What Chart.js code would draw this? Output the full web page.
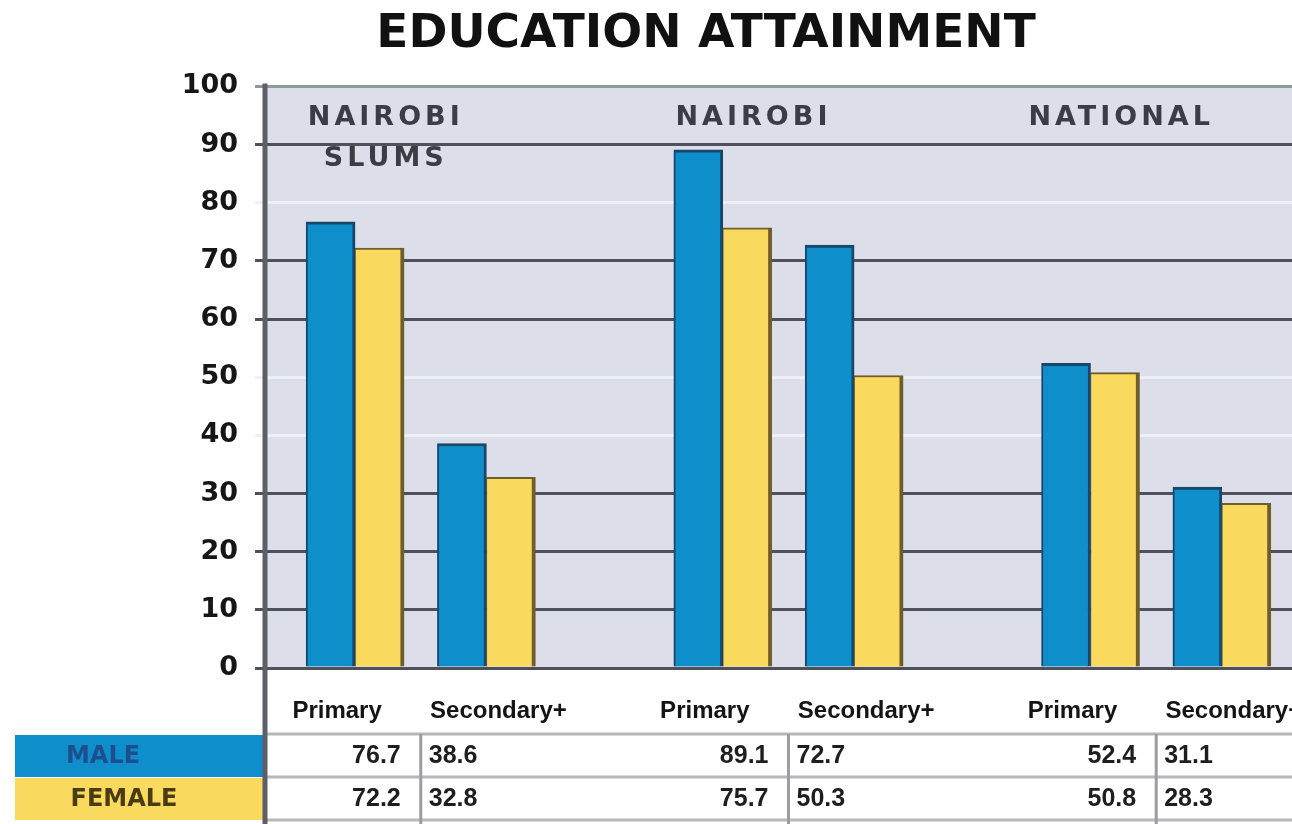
<!DOCTYPE html>
<html>
<head>
<meta charset="utf-8">
<title>Education Attainment</title>
<script src="https://cdn.jsdelivr.net/npm/chart.js@4.4.1/dist/chart.umd.min.js"></script>
<style>
  html, body { margin: 0; padding: 0; background: #fff; }
  #wrap { position: relative; width: 1292px; height: 824px; }
</style>
</head>
<body>
<div id="wrap"><canvas id="chart"></canvas></div>
<script>
const regions = ['NAIROBI SLUMS', 'NAIROBI', 'NATIONAL'];
const levels = ['Primary', 'Secondary+'];
const seriesNames = ['MALE', 'FEMALE'];
const maleValues = [76.7, 38.6, 89.1, 72.7, 52.4, 31.1];
const femaleValues = [72.2, 32.8, 75.7, 50.3, 50.8, 28.3];
const yMax = 100;
const yStep = 10;

// x layout in axis units: the two levels of a region sit 5 apart, regions 14 apart
const GROUP_STEP = 14;
const LEVEL_STEP = 5;

const BLUE = '#0e8fcb', BLUE_EDGE = '#17476a';
const YELLOW = '#f9da5e', YELLOW_EDGE = '#6f5d2a';
const FAINT_LINES = [40, 50, 80];

function xPos(i) {
  return Math.floor(i / levels.length) * GROUP_STEP + (i % levels.length) * LEVEL_STEP;
}
function points(values) {
  return values.map((v, i) => ({x: xPos(i), y: v}));
}
function line(ctx, x1, y1, x2, y2) {
  ctx.beginPath();
  ctx.moveTo(x1, y1);
  ctx.lineTo(x2, y2);
  ctx.stroke();
}

const plotBackground = {
  id: 'plotBackground',
  beforeDraw(chart) {
    const {ctx, chartArea: a} = chart;
    ctx.save();
    ctx.fillStyle = '#dcdfe9';
    ctx.fillRect(a.left, a.top, a.right - a.left, a.bottom - a.top);
    ctx.restore();
  }
};

const regionLabels = {
  id: 'regionLabels',
  afterDatasetsDraw(chart) {
    const {ctx, chartArea: a} = chart;
    const x = chart.scales.x;
    ctx.save();
    ctx.font = 'bold 27px "DejaVu Sans"';
    ctx.letterSpacing = '4px';
    ctx.fillStyle = '#3c3c44';
    ctx.textAlign = 'center';
    ctx.textBaseline = 'middle';
    regions.forEach((name, g) => {
      const cx = x.getPixelForValue(g * GROUP_STEP + LEVEL_STEP / 2) - 35;
      name.split(' ').forEach((txt, j) => ctx.fillText(txt, cx, a.top + 32 + j * 41));
    });
    ctx.restore();
  }
};

const dataTable = {
  id: 'dataTable',
  afterDraw(chart) {
    const {ctx, chartArea: a} = chart;
    const x = chart.scales.x;
    const bottom = chart.height;
    const rowTop = a.bottom + 66;
    const rowH = 43;
    ctx.save();

    // header row: level names under the bars
    ctx.font = 'bold 24px "Liberation Sans"';
    ctx.fillStyle = '#141414';
    ctx.textAlign = 'center';
    ctx.textBaseline = 'middle';
    maleValues.forEach((_, i) => {
      const k = i % levels.length;
      ctx.fillText(levels[k], x.getPixelForValue(xPos(i)) + (k === 0 ? -18 : 12), a.bottom + 43);
    });

    // legend cells
    const cells = [[BLUE, '#1d4f8f'], [YELLOW, '#4a3c12']];
    cells.forEach(([fill, txt], r) => {
      const y = rowTop + r * rowH + 1;
      ctx.fillStyle = fill;
      ctx.fillRect(15, y, a.left - 17, rowH - 1);
      ctx.fillStyle = txt;
      ctx.font = 'bold 24px "DejaVu Sans"';
      ctx.fillText(seriesNames[r], r === 0 ? 103 : 124, y + rowH / 2);
    });

    // row rules
    ctx.strokeStyle = '#b8b8bc';
    ctx.lineWidth = 3;
    for (let r = 0; r <= 2; r++) {
      const y = rowTop + r * rowH;
      line(ctx, a.left, y, a.right, y);
    }

    // column dividers and values
    ctx.font = 'bold 25px "Liberation Sans"';
    ctx.fillStyle = '#1e1e1e';
    regions.forEach((_, g) => {
      const dx = x.getPixelForValue(g * GROUP_STEP + LEVEL_STEP / 2);
      ctx.strokeStyle = '#9c9ca2';
      line(ctx, dx, rowTop, dx, bottom);
      [maleValues, femaleValues].forEach((vals, r) => {
        const y = rowTop + r * rowH + rowH / 2 + 1;
        ctx.textAlign = 'right';
        ctx.fillText(vals[g * 2].toFixed(1), dx - 20, y);
        ctx.textAlign = 'left';
        ctx.fillText(vals[g * 2 + 1].toFixed(1), dx + 8, y);
      });
    });

    // left axis line runs down through the table
    ctx.strokeStyle = '#5e5e68';
    ctx.lineWidth = 5;
    line(ctx, a.left, a.top - 3, a.left, bottom);
    ctx.restore();
  }
};

new Chart(document.getElementById('chart'), {
  type: 'bar',
  data: {
    datasets: [
      {
        label: seriesNames[0],
        data: points(maleValues),
        backgroundColor: BLUE,
        borderColor: BLUE_EDGE,
        borderWidth: {left: 2, top: 3, right: 3, bottom: 0},
        barThickness: 49
      },
      {
        label: seriesNames[1],
        data: points(femaleValues),
        backgroundColor: YELLOW,
        borderColor: YELLOW_EDGE,
        borderWidth: {left: 1, top: 2, right: 4, bottom: 0},
        barThickness: 49
      }
    ]
  },
  options: {
    responsive: true,
    maintainAspectRatio: false,
    animation: false,
    layout: {padding: {left: 120, right: 0, top: 0, bottom: 156}},
    plugins: {
      legend: {display: false},
      tooltip: {enabled: false},
      title: {
        display: true,
        text: 'EDUCATION ATTAINMENT',
        color: '#111',
        font: {family: 'DejaVu Sans', size: 47, weight: 'bold'},
        padding: {top: 7, bottom: 23}
      }
    },
    scales: {
      x: {
        type: 'linear',
        display: false,
        offset: false,
        min: -3.43,
        max: 35.67
      },
      y: {
        min: 0,
        max: yMax,
        afterFit(scale) { scale.width = 145; },
        ticks: {
          stepSize: yStep,
          padding: 17,
          color: '#161616',
          font: {family: 'DejaVu Sans', size: 27, weight: 'bold'}
        },
        grid: {
          lineWidth: 3,
          tickLength: 10,
          color(c) {
            const v = c.tick ? c.tick.value : 0;
            if (v === yMax) return '#8d9b9d';
            if (FAINT_LINES.includes(v)) return '#eef0f5';
            return '#50505a';
          }
        },
        border: {display: false}
      }
    }
  },
  plugins: [plotBackground, regionLabels, dataTable]
});
</script>
</body>
</html>
